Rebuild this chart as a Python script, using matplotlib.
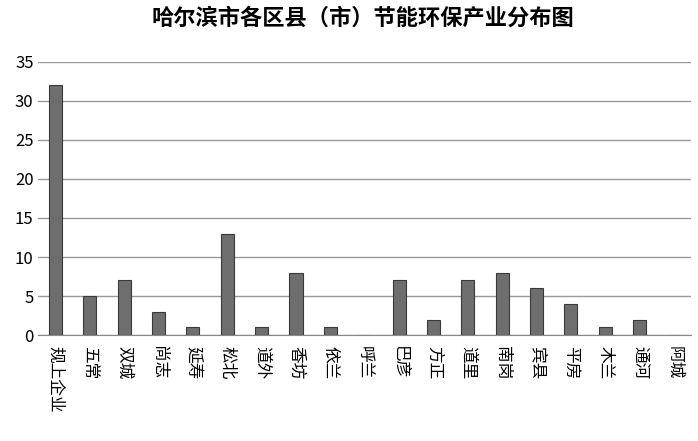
import matplotlib
matplotlib.use("Agg")
import matplotlib.pyplot as plt

plt.rcParams['font.family'] = ['Noto Sans CJK SC', 'DejaVu Sans']

categories = ["规上企业","五常","双城","尚志","延寿","松北","道外","香坊","依兰","呼兰",
              "巴彦","方正","道里","南岗","宾县","平房","木兰","通河","阿城"]
values = [32,5,7,3,1,13,1,8,1,0,7,2,7,8,6,4,1,2,0]
yticks = [0,5,10,15,20,25,30,35]

fig = plt.figure(figsize=(6.98,4.41), dpi=100)
ax = fig.add_axes([0.055, 0.24, 0.935, 0.62])
x = range(len(categories))
ax.bar(x, values, width=0.38, color='#6e6e6e', edgecolor='#3a3a3a', linewidth=0.8, zorder=3)
ax.set_ylim(0,35)
ax.set_yticks(yticks)
ax.set_xlim(-0.5, len(categories)-0.5)
ax.set_xticks(list(x))
ax.set_xticklabels(categories, fontsize=12, rotation=270, va='top', ha='center')
ax.tick_params(axis='x', length=0, pad=8)
ax.tick_params(axis='y', length=0, labelsize=12)
ax.grid(axis='y', color='#9a9a9a', linewidth=1, zorder=0)
for s in ['top','right','left']:
    ax.spines[s].set_visible(False)
ax.spines['bottom'].set_color('#888888')
fig.suptitle("哈尔滨市各区县（市）节能环保产业分布图", fontsize=16, fontweight='bold', y=0.985, x=0.52)
fig.savefig("out.png", dpi=100)
